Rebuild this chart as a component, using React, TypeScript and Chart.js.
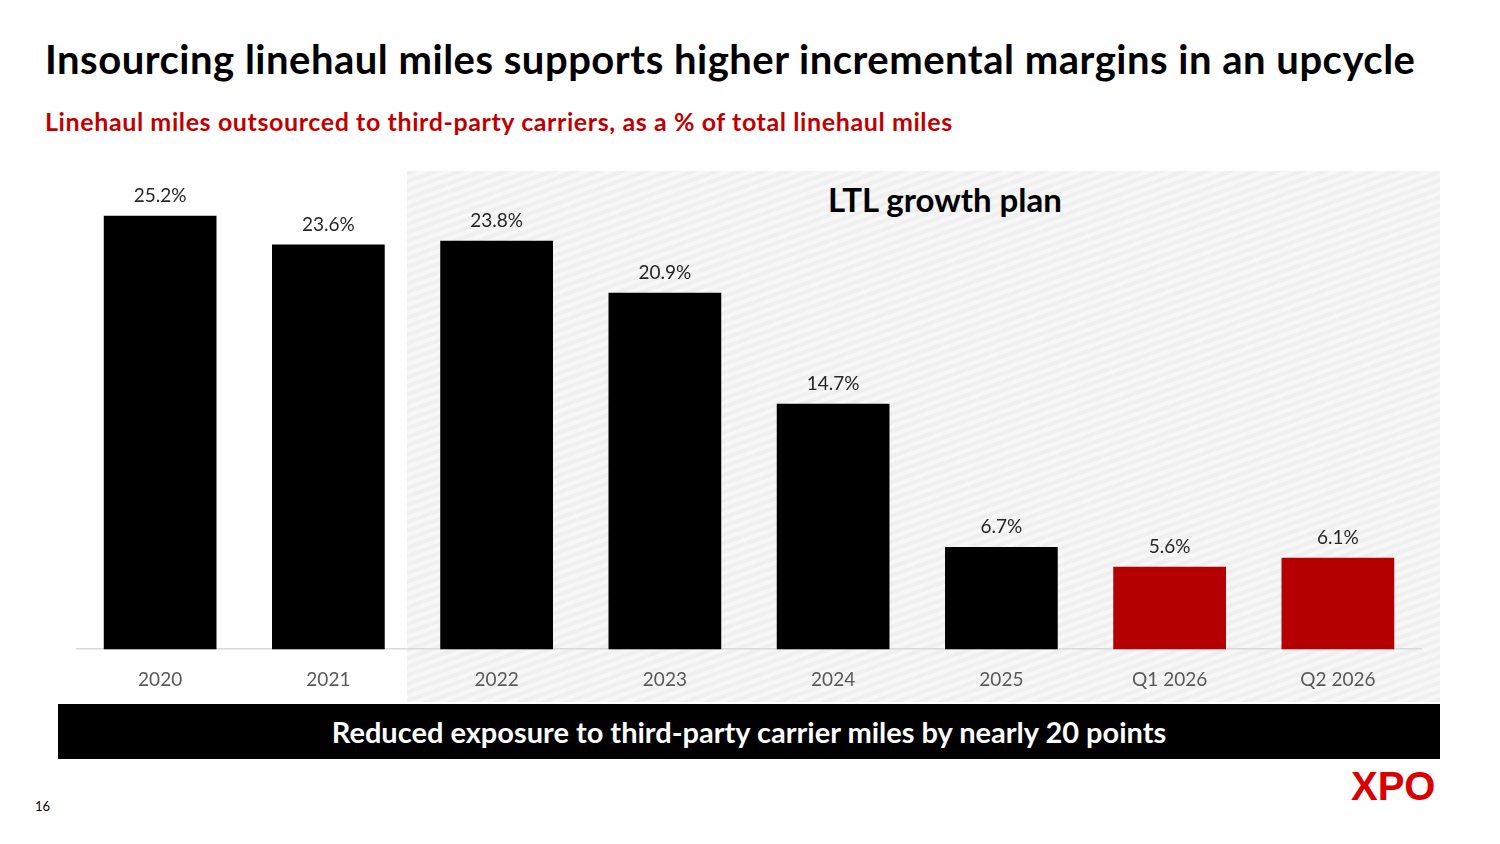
import React, { useEffect, useRef } from 'react';
import Chart from 'chart.js/auto';

// values
const categories = ['2020', '2021', '2022', '2023', '2024', '2025', 'Q1 2026', 'Q2 2026'];
const outsourcedPct = [25.2, 23.6, 23.8, 20.9, 14.7, 6.7, 5.6, 6.1];
const barColors = ['#000000', '#000000', '#000000', '#000000', '#000000', '#000000', '#b40000', '#b40000'];

const FONT = 'Lato, "Open Sans", sans-serif';

// draws the % label above each bar
const barLabels = {
  id: 'barLabels',
  afterDatasetsDraw(chart: Chart) {
    const { ctx } = chart;
    const meta = chart.getDatasetMeta(0);
    ctx.save();
    ctx.font = `19px ${FONT}`;
    ctx.fillStyle = '#262626';
    ctx.textAlign = 'center';
    ctx.textBaseline = 'middle';
    meta.data.forEach((bar: any, i: number) => {
      ctx.fillText(outsourcedPct[i].toFixed(1) + '%', bar.x, bar.y - 20);
    });
    ctx.restore();
  },
};

const OutsourcedChart: React.FC = () => {
  const chartRef = useRef<HTMLCanvasElement | null>(null);
  const chartInstanceRef = useRef<Chart | null>(null);

  useEffect(() => {
    if (chartInstanceRef.current) {
      chartInstanceRef.current.destroy();
    }
    const ctx = chartRef.current?.getContext('2d');
    if (ctx) {
      chartInstanceRef.current = new Chart(ctx, {
        type: 'bar',
        data: {
          labels: categories,
          datasets: [
            {
              data: outsourcedPct,
              backgroundColor: barColors,
              borderWidth: 0,
              barPercentage: 0.67,
              categoryPercentage: 1,
            },
          ],
        },
        options: {
          responsive: true,
          maintainAspectRatio: false,
          animation: false,
          layout: { padding: 0 },
          plugins: {
            legend: { display: false },
            tooltip: { enabled: false },
          },
          scales: {
            x: {
              grid: { display: false },
              border: { display: true, color: '#d9d9d9', width: 1.5 },
              ticks: {
                color: '#595959',
                padding: 11,
                font: { family: FONT, size: 19 },
              },
            },
            y: {
              display: false,
              min: 1,
              max: 27.7,
            },
          },
        },
        plugins: [barLabels],
      });
    }
    return () => {
      if (chartInstanceRef.current) {
        chartInstanceRef.current.destroy();
      }
    };
  }, []);

  return (
    <div style={{ position: 'absolute', left: 76, top: 171, width: 1346, height: 531 }}>
      <canvas ref={chartRef} style={{ width: '100%', height: '100%' }}></canvas>
    </div>
  );
};

const App: React.FC = () => {
  return (
    <div
      style={{
        position: 'fixed',
        left: 0,
        top: 0,
        width: 1500,
        height: 844,
        background: '#ffffff',
        fontFamily: FONT,
        overflow: 'hidden',
      }}
    >
      <div
        style={{
          position: 'absolute',
          left: 45,
          top: 35,
          fontSize: 40,
          lineHeight: '48px',
          letterSpacing: 0.5,
          fontWeight: 700,
          color: '#000000',
          whiteSpace: 'nowrap',
        }}
      >
        Insourcing linehaul miles supports higher incremental margins in an upcycle
      </div>
      <div
        style={{
          position: 'absolute',
          left: 45,
          top: 106,
          fontSize: 25,
          lineHeight: '30px',
          letterSpacing: 0.6,
          fontWeight: 700,
          color: '#c00000',
          whiteSpace: 'nowrap',
        }}
      >
        Linehaul miles outsourced to third-party carriers, as a % of total linehaul miles
      </div>

      {/* shaded growth plan region */}
      <div
        style={{
          position: 'absolute',
          left: 407,
          top: 171,
          width: 1033,
          height: 531,
          background:
            'repeating-linear-gradient(160deg, #efefef 0px, #efefef 4px, #f7f7f7 4px, #f7f7f7 8px)',
        }}
      />
      <div
        style={{
          position: 'absolute',
          left: 407,
          width: 1076,
          top: 179,
          textAlign: 'center',
          fontSize: 33,
          lineHeight: '40px',
          fontWeight: 700,
          color: '#000000',
        }}
      >
        LTL growth plan
      </div>

      <OutsourcedChart />

      <div
        style={{
          position: 'absolute',
          left: 58,
          top: 704,
          width: 1382,
          height: 55,
          background: '#000000',
          color: '#ffffff',
          fontSize: 29,
          fontWeight: 700,
          display: 'flex',
          alignItems: 'center',
          justifyContent: 'center',
        }}
      >
        Reduced exposure to third-party carrier miles by nearly 20 points
      </div>

      <div style={{ position: 'absolute', left: 35, top: 798, fontSize: 13, color: '#000000' }}>16</div>
      <div
        style={{
          position: 'absolute',
          left: 1351,
          top: 764,
          fontFamily: '"Liberation Sans", Arial, sans-serif',
          fontSize: 40,
          fontWeight: 900,
          color: '#db0000',
          letterSpacing: 0,
        }}
      >
        XPO
      </div>
    </div>
  );
};

export default App;
